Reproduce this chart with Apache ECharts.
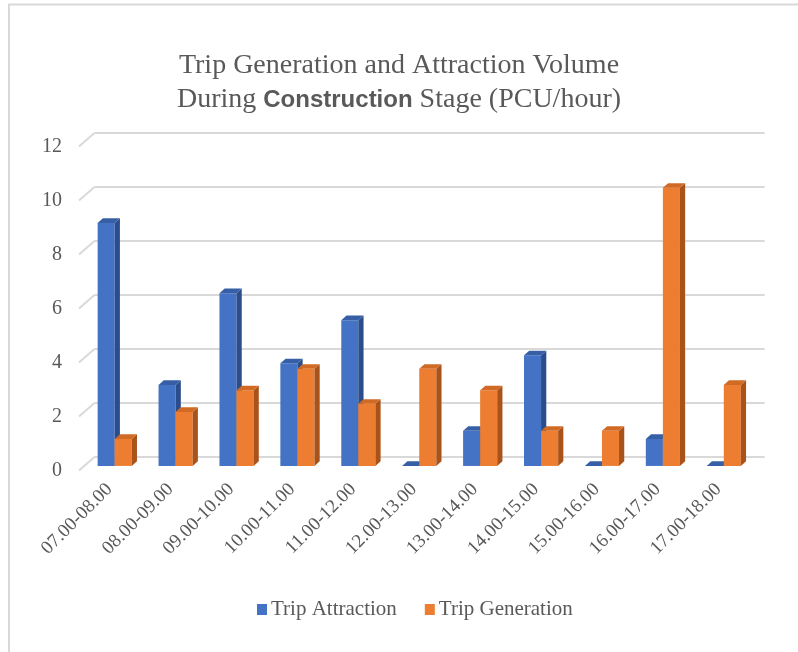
<!DOCTYPE html>
<html>
<head>
<meta charset="utf-8">
<script src="https://cdn.jsdelivr.net/npm/echarts@6/dist/echarts.min.js"></script>
<style>
  html, body { margin: 0; padding: 0; background: #ffffff; }
  #chart { width: 798px; height: 652px; }
</style>
</head>
<body>
<div id="chart"></div>
<script>
// Hourly time slots on the x axis
const categories = ['07.00-08.00', '08.00-09.00', '09.00-10.00', '10.00-11.00', '11.00-12.00',
  '12.00-13.00', '13.00-14.00', '14.00-15.00', '15.00-16.00', '16.00-17.00', '17.00-18.00'];

// PCU/hour per slot
const tripAttraction = [9, 3, 6.4, 3.8, 5.4, 0, 1.3, 4.1, 0, 1, 0];
const tripGeneration = [1, 2, 2.8, 3.6, 2.3, 3.6, 2.8, 1.3, 1.3, 10.3, 3];

// Value-axis tick values
const yTicks = [0, 2, 4, 6, 8, 10, 12];

// Depth of the pseudo-3D floor (back wall offset from the front plane)
const DX = 15.7, DY = 13.7;
const TEXT = '#595959';
const GRID = '#d9d9d9';
const FONT = 'Liberation Serif';

const palette = {
  attraction: { front: '#4472C4', side: '#2c4d8c', top: '#365fa6' },
  generation: { front: '#ED7D31', side: '#a9531b', top: '#d06a24' }
};

// Draws one column as front face, right side face and top face
function columnRenderer(slot, colors) {
  return function (params, api) {
    const cat = api.value(0);
    const val = api.value(1);
    const band = api.size([1, 0])[0];
    const w = band * 0.28;
    const dx = DX / 3, dy = DY / 3;
    const top = api.coord([cat, val]);
    const base = api.coord([cat, 0]);
    const x0 = top[0] + (slot === 0 ? -w : 0) + dx;
    const yTop = top[1] - dy;
    const yBase = base[1] - dy;
    return {
      type: 'group',
      children: [
        {
          type: 'rect',
          shape: { x: x0, y: yTop, width: w, height: yBase - yTop },
          style: { fill: colors.front }
        },
        {
          type: 'polygon',
          shape: { points: [[x0 + w, yTop], [x0 + w + dx, yTop - dy], [x0 + w + dx, yBase - dy], [x0 + w, yBase]] },
          style: { fill: colors.side }
        },
        {
          type: 'polygon',
          shape: { points: [[x0, yTop], [x0 + dx, yTop - dy], [x0 + w + dx, yTop - dy], [x0 + w, yTop]] },
          style: { fill: colors.top }
        }
      ]
    };
  };
}

// Slanted floor/wall connectors at each tick on the left edge
function connectorRenderer(params, api) {
  const p = api.coord([0, api.value(1)]);
  const left = params.coordSys.x;
  return {
    type: 'line',
    shape: { x1: left, y1: p[1], x2: left + DX, y2: p[1] - DY },
    style: { stroke: GRID, lineWidth: 2 }
  };
}

const chart = echarts.init(document.getElementById('chart'), null, { renderer: 'canvas' });

chart.setOption({
  backgroundColor: '#ffffff',
  animation: false,
  textStyle: { fontFamily: FONT },
  graphic: [{
    type: 'rect',
    shape: { x: 9, y: 4.5, width: 820, height: 680 },
    style: { fill: 'none', stroke: GRID, lineWidth: 2 },
    silent: true,
    z: -10
  }],
  title: {
    text: 'Trip Generation and Attraction Volume\nDuring {b|Construction} Stage (PCU/hour)',
    left: 'center',
    top: 44,
    textStyle: {
      fontFamily: FONT,
      fontSize: 28,
      fontWeight: 'normal',
      color: TEXT,
      lineHeight: 34,
      rich: {
        b: { fontFamily: 'Liberation Sans', fontWeight: 'bold', fontSize: 24, color: TEXT, lineHeight: 34 }
      }
    }
  },
  legend: {
    left: 252,
    top: 594,
    itemWidth: 10,
    itemHeight: 11,
    itemGap: 28,
    icon: 'rect',
    textStyle: { fontFamily: FONT, fontSize: 21, color: TEXT, padding: [0, 0, 0, -1] },
    data: ['Trip Attraction', 'Trip Generation']
  },
  grid: [
    { left: 79, right: 49, top: 146.5, height: 324 },
    { left: 79 + DX, right: 49 - DX, top: 146.5 - DY, height: 324 }
  ],
  xAxis: [
    {
      type: 'category',
      gridIndex: 0,
      data: categories,
      axisLine: { show: false },
      axisTick: { show: false },
      axisLabel: { rotate: 45, margin: 16, fontFamily: FONT, fontSize: 19, color: TEXT, interval: 0 }
    },
    {
      type: 'category',
      gridIndex: 1,
      data: categories,
      show: false
    }
  ],
  yAxis: [
    {
      type: 'value',
      gridIndex: 0,
      min: 0, max: 12, interval: 2,
      axisLine: { show: false },
      axisTick: { show: false },
      splitLine: { show: false },
      axisLabel: { margin: 17, fontFamily: FONT, fontSize: 20, color: TEXT }
    },
    {
      type: 'value',
      gridIndex: 1,
      min: 0, max: 12, interval: 2,
      axisLine: { show: false },
      axisTick: { show: false },
      axisLabel: { show: false },
      splitLine: { show: true, lineStyle: { color: GRID, width: 2 } }
    }
  ],
  series: [
    {
      type: 'custom',
      name: 'connectors',
      xAxisIndex: 0, yAxisIndex: 0,
      silent: true,
      z: 1,
      encode: { x: 0, y: 1 },
      data: yTicks.map(v => [0, v]),
      renderItem: connectorRenderer
    },
    {
      type: 'custom',
      name: 'Trip Attraction',
      xAxisIndex: 0, yAxisIndex: 0,
      z: 3,
      itemStyle: { color: palette.attraction.front },
      encode: { x: 0, y: 1 },
      data: tripAttraction.map((v, i) => [i, v]),
      renderItem: columnRenderer(0, palette.attraction)
    },
    {
      type: 'custom',
      name: 'Trip Generation',
      xAxisIndex: 0, yAxisIndex: 0,
      z: 4,
      itemStyle: { color: palette.generation.front },
      encode: { x: 0, y: 1 },
      data: tripGeneration.map((v, i) => [i, v]),
      renderItem: columnRenderer(1, palette.generation)
    }
  ]
});
</script>
</body>
</html>
